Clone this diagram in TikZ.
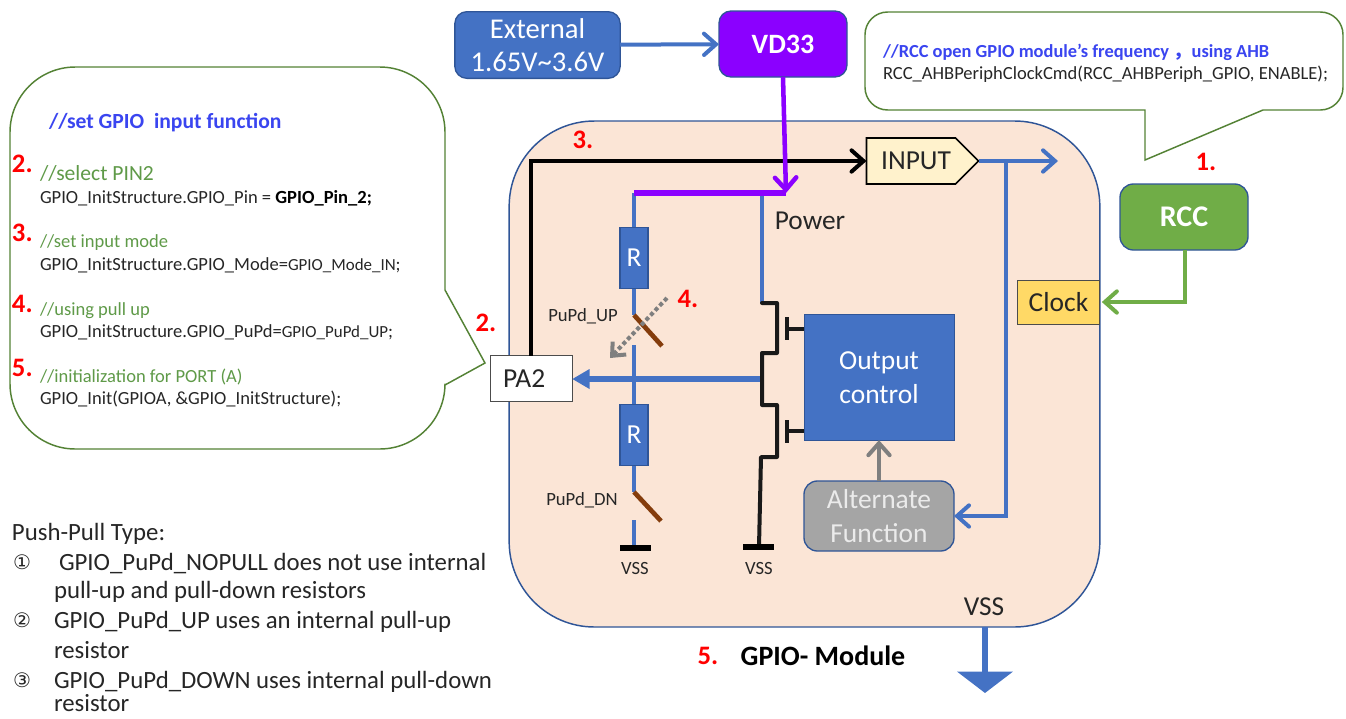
\documentclass[tikz,border=0pt]{standalone}
\usepackage{fontspec}
\usepackage{tikz}
\usetikzlibrary{arrows.meta,shapes.symbols}
\setmainfont{Carlito}
\newfontfamily\cjk{Noto Sans CJK SC}
\newfontfamily\sym{DejaVu Sans}
\definecolor{blu}{HTML}{4472C4}
\definecolor{blued}{HTML}{2F5597}
\definecolor{purp}{HTML}{8B00FF}
\definecolor{peach}{HTML}{FBE5D6}
\definecolor{grn}{HTML}{70AD47}
\definecolor{grnd}{HTML}{548235}
\definecolor{cmt}{HTML}{5F9A48}
\definecolor{hdr}{HTML}{3A45F0}
\definecolor{ink}{HTML}{262626}
\definecolor{brn}{HTML}{843C0C}
\definecolor{gry}{HTML}{7F7F7F}
\definecolor{clk}{HTML}{FFD966}
\definecolor{inp}{HTML}{FFF2CC}
\definecolor{alt}{HTML}{A5A5A5}
\newcommand{\fsz}[1]{\fontsize{#1}{#1}\selectfont}

\begin{document}
\begin{tikzpicture}[x=.75pt,y=-.75pt,
  every node/.style={inner sep=0pt,outer sep=0pt,align=center,text=ink},
  >={Straight Barb[length=9pt,width=16pt,line cap=round]},
  num/.style={text=red,font=\fsz{20}\bfseries},
  txt/.style={anchor=west,align=left},
  small/.style={txt,font=\fsz{13.9}},
  cmtt/.style={txt,text=cmt,font=\fsz{13.9}},
  lab/.style={font=\fsz{14}},
  big/.style={font=\fsz{20.6}},
  body/.style={txt,font=\fsz{18.6},text height=13pt,text depth=3.5pt},
  bluebox/.style={fill=blu,draw=blued,line width=1pt,text=white,big},
  res/.style={bluebox,minimum width=21pt,minimum height=46pt},
  blueline/.style={draw=blu,line width=3pt},
  blackline/.style={draw=black!90,line width=3pt},
  brownsw/.style={draw=brn,line width=3.5pt},
  bar/.style={draw=black,line width=4.5pt},
  bubble/.style={draw=grnd,line width=1.1pt,fill=white}]
\useasboundingbox (0,0) rectangle (1346,718);

% module body
\node[draw=blued,line width=1.1pt,fill=peach,rounded corners=64pt,minimum width=443pt,minimum height=379.5pt] (module) at (804.5,374) {};

% speech bubbles
\draw[bubble] (445,200) -- (445,290) -- (485,363) -- (445,385) [rounded corners=49pt] -- (445,449) -- (10,449) -- (10,67) -- (445,67) -- cycle;
\draw[bubble] (1000,12) [rounded corners=17pt] -- (1343,12) -- (1343,110) [sharp corners] -- (1263,110) -- (1145,160) -- (1145,110) [rounded corners=17pt] -- (865,110) -- (865,12) -- cycle;

% top boxes
\node[bluebox,font=\fsz{21.5},rounded corners=9pt,minimum width=124pt,minimum height=50pt] (ext) at (537.5,45) {External\\[3pt]1.65V\textasciitilde3.6V};
\node[fill=purp,draw=blued,line width=1pt,rounded corners=9pt,minimum width=96pt,minimum height=49.5pt,text=white,font=\fsz{21}\bfseries] (vd33) at (783,44) {VD33};
\node[fill=grn,draw=blued,line width=1pt,rounded corners=10pt,minimum width=96pt,minimum height=49.5pt,text=white,font=\fsz{22.5}\bfseries] (rcc) at (1184,217) {RCC};
\node[fill=clk,draw=black!70,line width=.7pt,minimum width=62pt,minimum height=33pt,big] (clock) at (1058.5,302) {Clock};
\node[signal,signal to=east,signal pointer angle=90,draw=black,line width=1.2pt,fill=inp,minimum width=84pt,minimum height=34.5pt,big] (input) at (911,161) {\hspace{7.5pt}INPUT};
\node[fill=white,draw=black!70,line width=.7pt,minimum width=61pt,minimum height=34pt,big] (pa2) at (531.5,378.5) {PA2\hspace{11pt}};

% inner blocks
\node[fill=blu,draw=blued,line width=.7pt,minimum width=112.5pt,minimum height=94pt,text=white,big] (outctl) at (879,377.5) {Output\\[5pt]control};
\node[fill=alt,draw=blued,line width=1pt,rounded corners=10pt,minimum width=112.5pt,minimum height=52.5pt,text=white!92!black,big] (altfn) at (879,516) {Alternate\\[5pt]Function};
\node[res] (rup) at (634,258) {R};
\node[res] (rdn) at (634,435) {R};

% named points
\coordinate (pwrend) at (786,193);
\coordinate (pwrleft) at (634,193);
\coordinate (pwrtap) at (762,195);
\coordinate (inpcor) at (531,161);
\coordinate (inpout) at (1058,161);
\coordinate (branch) at (1006,161);
\coordinate (swupa) at (634,315);
\coordinate (swupb) at (662,346);
\coordinate (swupc) at (634,345);
\coordinate (swdna) at (634,492);
\coordinate (swdnb) at (661,521);
\coordinate (swdnc) at (634,520);
\coordinate (vssa) at (634,548);
\coordinate (vssb) at (759,547);
\coordinate (rcccor) at (1185,302);
\coordinate (drain) at (762,379);
\coordinate (sink) at (985,693);

% connectors
\draw[->,draw=blu,line width=3pt] (ext) -- (vd33);
\draw[->,draw=grn,line width=3pt] (rcc.south -| rcccor) -- (rcccor) -- ([xshift=1.5pt]clock.east);
\draw[->,draw=black,line width=3pt] (pa2.north -| inpcor) -- (inpcor) -- (input.west |- inpcor);
\draw[blueline] (pwrtap) -- (762,303);
\draw[blueline] (pwrleft) -- (rup);
\draw[blueline] (rup) -- (swupa);
\draw[blueline] (swupc) -- (rdn);
\draw[blueline] (rdn) -- (swdna);
\draw[blueline] (swdnc) -- (vssa);
\draw[draw=purp,line width=4pt] (pwrleft) -- (pwrend);
\draw[->,draw=purp,line width=3.4pt] (vd33.south) -- (pwrend);
\draw[->,blueline] (input.east |- inpout) -- (inpout);
\draw[->,blueline] (branch) -- (branch |- altfn) -- (altfn.east);
\draw[->,draw=gry,line width=3pt] (altfn.north) -- (outctl.south);
\draw[-{Triangle[length=13pt,width=14pt]},blueline,line width=4.5pt] (drain) -- (pa2.east |- drain);
\draw[-{Triangle[length=16pt,width=41pt]},blueline,line width=4.5pt] (module.south -| sink) -- (sink);
\draw[brownsw] (swupa) -- (swupb);
\draw[brownsw] (swdna) -- (swdnb);

% pull-up dots
\draw[-{Straight Barb[length=8pt,width=14pt]},draw=gry,line width=3pt,dotted] (667,298) -- (610,358);

% transistors
\draw[blackline,line cap=round,line join=round] (762,303) -- (777,303) -- (777,353) -- (762,353) -- (762,405) -- (777,405) -- (777,457) -- (761,457) -- (vssb);
\draw[blackline] (787,317) -- (787,340);
\draw[blackline] (787,329) -- (outctl.west |- 787,329);
\draw[blackline] (787,420) -- (787,443);
\draw[blackline] (787,431) -- (outctl.west |- 787,431);
\draw[bar] (620,548) -- (651,548);
\draw[bar] (743,547) -- (774,547);

% labels in the module
\node[font=\fsz{20.5}] (power) at (810,221) {Power};
\node[font=\fsz{20.5}] (vssm) at (984,607) {VSS};
\node[lab] (puup) at (583,316) {PuPd\_UP};
\node[lab] (pudn) at (582,500) {PuPd\_DN};
\node[lab] (vssl) at (635,568) {VSS};
\node[lab] (vssr) at (759,568) {VSS};
\node[font=\fsz{21}\bfseries,text=black] (gpiom) at (823,656) {GPIO- Module};

% red numbers
\node[num] (n1) at (1206,162) {1.};
\node[num] (n2) at (486,323) {2.};
\node[num] (n3) at (583,140) {3.};
\node[num] (n4) at (688,299) {4.};
\node[num] (n5) at (708,656) {5.};
\node[num,txt] (l2) at (12,164) {2.};
\node[num,txt] (l3) at (12,233) {3.};
\node[num,txt] (l4) at (12,304) {4.};
\node[num,txt] (l5) at (12,368) {5.};

% code in the left bubble
\node[txt,text=hdr,font=\fsz{16.2}\bfseries] (hleft) at (49,123) {//set GPIO\ \ input function};
\node[cmtt,font=\fsz{16.2}] (c2) at (40,173) {//select PIN2};
\node[small] (t2) at (40,198) {GPIO\_InitStructure.GPIO\_Pin = {\bfseries\color{black}GPIO\_Pin\_2;}};
\node[cmtt] (c3) at (40,243) {//set input mode};
\node[small] (t3) at (40,265) {GPIO\_InitStructure.GPIO\_Mode={\fsz{12.7}GPIO\_Mode\_IN};};
\node[cmtt] (c4) at (40,311) {//using pull up};
\node[small] (t4) at (40,332) {GPIO\_InitStructure.GPIO\_PuPd={\fsz{12.7}GPIO\_PuPd\_UP};};
\node[cmtt] (c5) at (40,377) {//initialization for PORT (A)};
\node[small] (t5) at (40,399) {GPIO\_Init(GPIOA, \&GPIO\_InitStructure);};

% code in the right bubble
\node[txt,text=hdr,font=\fsz{13.8}\bfseries] (hright) at (883,52) {//RCC open GPIO module’s frequency {\cjk，}using AHB};
\node[small] (tright) at (883,74) {RCC\_AHBPeriphClockCmd(RCC\_AHBPeriph\_GPIO, ENABLE);};

% push-pull list
\node[body] (ptitle) at (12,534) {Push-Pull Type:};
\node[txt,font=\sym\fsz{15}] (m1) at (13,562) {①};
\node[body] (p1a) at (59,564) {GPIO\_PuPd\_NOPULL does not use internal};
\node[body] (p1b) at (54,592) {pull-up and pull-down resistors};
\node[txt,font=\sym\fsz{15}] (m2) at (13,620) {②};
\node[body] (p2a) at (54,622) {GPIO\_PuPd\_UP uses an internal pull-up};
\node[body] (p2b) at (54,652) {resistor};
\node[txt,font=\sym\fsz{15}] (m3) at (13,680) {③};
\node[body] (p3a) at (54,682) {GPIO\_PuPd\_DOWN uses internal pull-down};
\node[body,text depth=0pt] (p3b) at (54,703) {resistor};
\end{tikzpicture}
\end{document}
